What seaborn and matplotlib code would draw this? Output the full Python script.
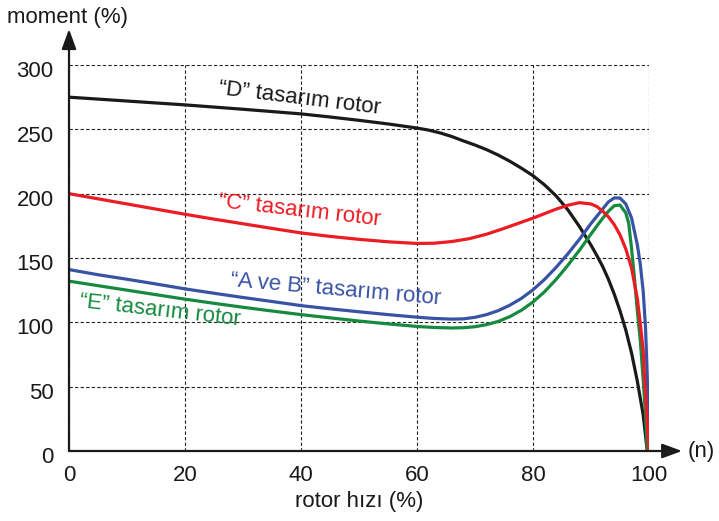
import pandas as pd
import matplotlib
matplotlib.use('Agg')
import matplotlib.pyplot as plt
import matplotlib.transforms as mtrans
import seaborn as sns

# rotor hızı (%) ve moment (%) değerleri
d_hiz = [0, 5, 10, 15, 20, 25, 30, 35, 40, 45, 50, 55, 60, 62, 64, 66, 68, 70, 72, 74, 76, 78,
         80, 82, 84, 86, 88, 90, 91, 92, 93, 94, 95, 96, 97, 98, 99, 99.7]
d_moment = [275, 273.5, 272, 270.5, 269, 267.3, 265.6, 263.8, 262, 259.6, 257, 254.2, 251, 249.4,
            247.2, 244.4, 241, 237.8, 234.2, 230, 225.2, 219.8, 214, 206.8, 198.2, 187.5, 174.5,
            160, 152, 143.5, 133.5, 122, 109, 94, 76, 54, 28, 0]

c_hiz = [0, 5, 10, 15, 20, 25, 30, 35, 40, 45, 50, 55, 60, 63, 66, 69, 72, 75, 78, 80,
         82, 84, 86, 88, 90, 91, 92, 93, 94, 95, 96, 97, 98, 98.5, 99, 99.3, 99.7, 100]
c_moment = [200, 196, 192, 188, 184, 180.2, 176.6, 173, 169.5, 166.8, 164.5, 162.6, 161.3, 161.5,
            162.8, 165, 168.5, 173, 177.8, 181, 184.5, 188, 191, 193, 192, 190, 186.5, 182, 176,
            168, 157, 142, 118, 99, 78, 52, 22, 0]

ab_hiz = [0, 5, 10, 15, 20, 25, 30, 35, 40, 45, 50, 55, 60, 63, 66, 68, 70, 72, 74, 76, 78, 80,
          82, 84, 86, 88, 90, 92, 93, 94, 95, 96, 97, 98, 98.5, 99, 99.4, 99.7, 100]
ab_moment = [141, 137, 133.5, 129.8, 126, 122.6, 119.3, 116.2, 113, 110.5, 108.2, 106, 104, 103,
             102.5, 102.7, 103.9, 106, 109.1, 113.3, 118.6, 125.3, 133.4, 142.8, 153.2, 164.5,
             176.8, 188, 193.6, 196.7, 196.6, 192, 181, 160, 145, 124, 96, 58, 0]

e_hiz = [0, 5, 10, 15, 20, 25, 30, 35, 40, 45, 50, 55, 60, 63, 66, 68, 70, 72, 74, 76, 78, 80,
         82, 84, 86, 88, 90, 91, 92, 93, 94, 95, 96, 96.5, 97, 97.5, 98, 98.5, 99, 99.4, 99.7]
e_moment = [132, 128.5, 125, 121.5, 118, 114.8, 111.7, 108.8, 106, 103.5, 101, 98.8, 96.8, 96,
            95.6, 95.8, 96.6, 98.2, 100.7, 104.4, 109.4, 115.8, 123.8, 133.4, 144.3, 156, 168.6,
            174.8, 180.8, 186.3, 190.6, 191.2, 185, 177, 157, 134, 108, 86, 55, 28, 0]

x_ticks = [0, 20, 40, 60, 80, 100]
y_ticks = [0, 50, 100, 150, 200, 250, 300]

egriler = [
    ('“D” tasarım rotor', d_hiz, d_moment, '#1a1a1a'),
    ('“A ve B” tasarım rotor', ab_hiz, ab_moment, '#3953a4'),
    ('“E” tasarım rotor', e_hiz, e_moment, '#168a3e'),
    ('“C” tasarım rotor', c_hiz, c_moment, '#ec1c24'),
]

sns.set_style('white')
plt.rcParams['font.family'] = ['Liberation Sans', 'DejaVu Sans']

fig = plt.figure(figsize=(7.19, 5.21), dpi=100)
ax = fig.add_axes([69/719, 1-451/521, 580/719, 386/521])

for ad, xs, ys, renk in egriler:
    df = pd.DataFrame({'hiz': xs, 'moment': ys})
    sns.lineplot(data=df, x='hiz', y='moment', ax=ax, color=renk, linewidth=2.3,
                 sort=False, estimator=None)

ax.set_xlim(0, 100)
ax.set_ylim(0, 300)
ax.set_xticks(x_ticks)
ax.set_yticks(y_ticks)
ax.tick_params(length=0, labelsize=16, colors='#1a1a1a')
ax.tick_params(axis='x', pad=10)
ax.tick_params(axis='y', pad=11)
# y etiketleri referansta biraz aşağıda
kaydir = mtrans.ScaledTranslation(0, -3/72, fig.dpi_scale_trans)
for lab in ax.get_yticklabels():
    lab.set_transform(lab.get_transform() + kaydir)
ax.grid(True, color='#222222', linestyle=(0, (3, 2)), linewidth=0.8)
for s in ax.spines.values():
    s.set_visible(False)
ax.set_xlabel('rotor hızı (%)', fontsize=16, color='#1a1a1a', labelpad=4)
ax.set_ylabel('')

# eksen okları
ok = dict(arrowstyle='-|>,head_length=0.6,head_width=0.22', lw=1.6, color='#1a1a1a',
          mutation_scale=20, shrinkA=0, shrinkB=0)
ax.annotate('', xy=(1.057, 0), xytext=(0, 0), xycoords='axes fraction', arrowprops=ok,
            annotation_clip=False)
ax.annotate('', xy=(0, 1.093), xytext=(0, 0), xycoords='axes fraction', arrowprops=ok,
            annotation_clip=False)

fig.text(7/719, 1-17/521, 'moment (%)', fontsize=16, ha='left', va='center', color='#1a1a1a')
fig.text(688/719, 1-452/521, '(n)', fontsize=16, ha='left', va='center', color='#1a1a1a')

# eğri etiketleri
ax.text(39.8, 274, '“D” tasarım rotor', fontsize=16, color='#1a1a1a', rotation=-7,
        ha='center', va='center', rotation_mode='anchor')
ax.text(39.8, 186.5, '“C” tasarım rotor', fontsize=16, color='#ec1c24', rotation=-6.5,
        ha='center', va='center', rotation_mode='anchor')
ax.text(45.9, 125, '“A ve B” tasarım rotor', fontsize=16, color='#3953a4', rotation=-5,
        ha='center', va='center', rotation_mode='anchor')
ax.text(15.7, 109, '“E” tasarım rotor', fontsize=16, color='#168a3e', rotation=-6.5,
        ha='center', va='center', rotation_mode='anchor')

fig.savefig('out.png', dpi=100)
